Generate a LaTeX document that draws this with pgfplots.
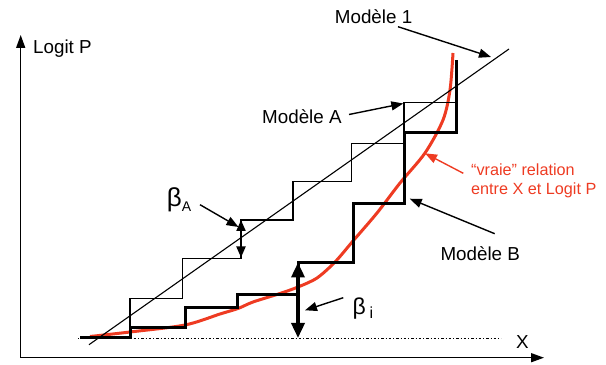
\documentclass[border=0pt]{standalone}
\usepackage{fontspec}
\setmainfont{Liberation Sans}
\usepackage{pgfplots}
\pgfplotsset{compat=1.18}
\usetikzlibrary{arrows.meta}
\definecolor{vraie}{HTML}{EE3B22}

\begin{document}
\begin{tikzpicture}
\begin{axis}[
  scale only axis,
  width=606bp,
  height=365bp,
  xmin=0, xmax=606,
  ymin=0, ymax=365,
  hide axis,
  clip=false
]
  % full frame, so the page is the whole axis
  \path (axis cs:0,0) rectangle (axis cs:606,365);
  % axes
  \draw[line width=1.5bp, -{Triangle[length=13bp,width=9bp]}] (axis cs:20.7,7.3) -- (axis cs:20.7,330);
  \draw[line width=1.5bp, -{Triangle[length=13bp,width=9bp]}] (axis cs:20.7,7.3) -- (axis cs:544,7.3);
  % baseline
  \addplot[black, line width=0.9bp, dash pattern=on 1bp off 2bp on 2.5bp off 2bp] coordinates {(78,26.3) (501,26.3)};

  % "vraie" relation
  \addplot[vraie, line width=3bp, smooth, tension=0.5] coordinates {
    (90,28.5) (130,33) (185,40) (220,51) (238,56.5) (253,63) (280,71.5) (298,78)
    (317,87) (335,103) (353,124) (377,152) (400,182) (425,212) (443,245) (450,275) (453,312)
  };

  % Modele 1
  \addplot[black, line width=1.1bp] coordinates {(89,20.3) (509,316)};

  % Modele A
  \addplot[black, line width=1.2bp] coordinates {
    (80,27.5) (130,27.5) (130,66.3) (182.7,66.3) (182.7,106.3) (241,106.3) (241,145)
    (293,145) (293,183.5) (351.7,183.5) (351.7,221.7) (404,221.7) (404,262.5) (455,262.5)
  };

  % Modele B
  \addplot[black, line width=3bp] coordinates {
    (80,27.5) (130,27.5) (130,37.3) (185,37.3) (185,57) (237.5,57) (237.5,70)
    (298,70) (298,102.5) (353.5,102.5) (353.5,161.5) (404.5,161.5) (404.5,232)
    (456,232) (456,305)
  };

  % beta arrows
  \draw[line width=2bp, {Triangle[length=11bp,width=9bp]}-{Triangle[length=11bp,width=9bp]}] (axis cs:241,145) -- (axis cs:241,107.5);
  \draw[line width=3.5bp, {Triangle[length=15bp,width=13bp]}-{Triangle[length=15bp,width=13bp]}] (axis cs:298,102.5) -- (axis cs:298,27);

  % labels
  \node[anchor=base west, inner sep=0pt, font=\fontsize{18.8bp}{22bp}\selectfont] at (axis cs:33,311) {Logit P};
  \node[anchor=base west, inner sep=0pt, font=\fontsize{18.8bp}{22bp}\selectfont] at (axis cs:516,16.3) {X};
  \node[anchor=base west, inner sep=0pt, font=\fontsize{18.8bp}{22bp}\selectfont] at (axis cs:334.7,341) {Modèle 1};
  \node[anchor=base west, inner sep=0pt, font=\fontsize{18.8bp}{22bp}\selectfont] at (axis cs:262,241.3) {Modèle A};
  \node[anchor=base west, inner sep=0pt, font=\fontsize{18.8bp}{22bp}\selectfont] at (axis cs:440.3,104.7) {Modèle B};
  \node[anchor=base west, inner sep=0pt, font=\fontsize{26bp}{26bp}\selectfont] at (axis cs:166.7,158.5)
    {β\raisebox{-5bp}{\fontsize{14bp}{14bp}\selectfont A}};
  \node[anchor=base west, inner sep=0pt, font=\fontsize{23bp}{23bp}\selectfont] at (axis cs:352.3,50.5)
    {β\,\raisebox{-4bp}{\fontsize{16bp}{16bp}\selectfont i}};
  \node[anchor=base west, inner sep=0pt, text=vraie, font=\fontsize{16.2bp}{18.7bp}\selectfont] at (axis cs:471,189.3) {“vraie” relation};
  \node[anchor=base west, inner sep=0pt, text=vraie, font=\fontsize{16.2bp}{18.7bp}\selectfont] at (axis cs:471,170.6) {entre X et Logit P};

  % pointer arrows
  \draw[line width=1.4bp, -{Triangle[length=12bp,width=9bp]}] (axis cs:398,338.3) -- (axis cs:491,308);
  \draw[line width=1.4bp, -{Triangle[length=12bp,width=9bp]}] (axis cs:349,250.5) -- (axis cs:403.3,261.5);
  \draw[line width=1.4bp, -{Triangle[length=12bp,width=9bp]}] (axis cs:200,160.3) -- (axis cs:238.5,138);
  \draw[line width=1.4bp, -{Triangle[length=12bp,width=9bp]}] (axis cs:343.3,67.3) -- (axis cs:305,54.7);
  \draw[line width=1.4bp, -{Triangle[length=12bp,width=9bp]}] (axis cs:494.7,131.3) -- (axis cs:409.7,166.3);
  \draw[vraie, line width=1.4bp, -{Triangle[length=12bp,width=9bp]}] (axis cs:463.3,191.7) -- (axis cs:425,211.7);
\end{axis}
\end{tikzpicture}
\end{document}
